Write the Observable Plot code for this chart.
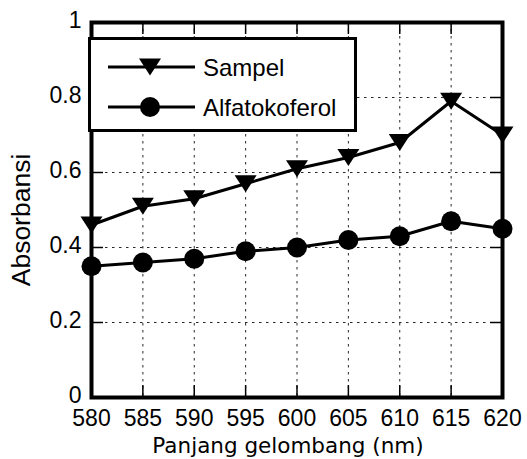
<!DOCTYPE html>
<html>
<head>
<meta charset="utf-8">
<script src="https://cdn.jsdelivr.net/npm/d3@7"></script>
<script src="https://cdn.jsdelivr.net/npm/@observablehq/plot@0.6"></script>
<style>
  html, body { margin: 0; padding: 0; background: #fff; }
  #wrap { position: relative; width: 527px; height: 459px; }
  #legend { position: absolute; left: 88px; top: 37px; width: 263px; height: 89px;
            border: 3px solid #000; background: #fff; }
  #legend svg { display: block; }
</style>
</head>
<body>
<div id="wrap"><div id="chart"></div><div id="legend"></div></div>
<script>
// ---- data ----
const wavelength = [580, 585, 590, 595, 600, 605, 610, 615, 620];
const sampel = [0.46, 0.51, 0.53, 0.57, 0.61, 0.64, 0.68, 0.79, 0.70];
const alfatokoferol = [0.35, 0.36, 0.37, 0.39, 0.40, 0.42, 0.43, 0.47, 0.45];
const seriesNames = ["Sampel", "Alfatokoferol"];
const xTicks = [580, 585, 590, 595, 600, 605, 610, 615, 620];
const yTicks = [0, 0.2, 0.4, 0.6, 0.8, 1];
const yTickLabels = ["0", "0.2", "0.4", "0.6", "0.8", "1"];
const xTitle = "Panjang gelombang (nm)";
const yTitle = "Absorbansi";

// ---- layout ----
const W = 527, H = 459;
const mL = 91, mR = 25, mT = 22, mB = 62;
const innerW = W - mL - mR, innerH = H - mT - mB;
const tickLen = 12;
const sansFont = "'Liberation Sans', Arial, Helvetica, sans-serif";

const rowsS = wavelength.map((x, i) => ({x, y: sampel[i]}));
const rowsA = wavelength.map((x, i) => ({x, y: alfatokoferol[i]}));

// downward triangle symbol
const triangleDown = {
  draw(context) {
    context.moveTo(-11, -8.5);
    context.lineTo(11, -8.5);
    context.lineTo(0, 8.5);
    context.closePath();
  }
};

const grid = {stroke: "#000", strokeWidth: 1, strokeDasharray: "2.5,4.5", strokeOpacity: 0.85};

const chart = Plot.plot({
  width: W, height: H,
  marginLeft: mL, marginRight: mR, marginTop: mT, marginBottom: mB,
  style: {fontFamily: sansFont, fontSize: "23px", background: "#fff", color: "#000", overflow: "visible"},
  x: {domain: [580, 620]},
  y: {domain: [0, 1]},
  marks: [
    Plot.ruleX(xTicks, {x: d => d, ...grid}),
    Plot.ruleY(yTicks, {y: d => d, ...grid}),
    // inward ticks on all four sides
    Plot.tickX(xTicks, {x: d => d, insetTop: innerH - tickLen, stroke: "#000", strokeWidth: 1.5}),
    Plot.tickX(xTicks, {x: d => d, insetBottom: innerH - tickLen, stroke: "#000", strokeWidth: 1.5}),
    Plot.tickY(yTicks, {y: d => d, insetRight: innerW - tickLen, stroke: "#000", strokeWidth: 1.5}),
    Plot.tickY(yTicks, {y: d => d, insetLeft: innerW - tickLen, stroke: "#000", strokeWidth: 1.5}),
    Plot.line(rowsS, {x: "x", y: "y", stroke: "#000", strokeWidth: 3}),
    Plot.line(rowsA, {x: "x", y: "y", stroke: "#000", strokeWidth: 3}),
    Plot.dot(rowsS, {x: "x", y: "y", symbol: triangleDown, fill: "#000", stroke: "none"}),
    Plot.dot(rowsA, {x: "x", y: "y", r: 10, fill: "#000", stroke: "none"}),
    Plot.frame({stroke: "#000", strokeWidth: 4}),
    Plot.axisX(xTicks, {tickSize: 0, tickPadding: 12, label: null, fontSize: 23}),
    Plot.axisY(yTicks, {tickSize: 0, tickPadding: 10, label: null, fontSize: 23, dy: -2,
      tickFormat: d => yTickLabels[yTicks.indexOf(d)]}),
    Plot.text([xTitle], {text: d => d, frameAnchor: "bottom", lineAnchor: "bottom",
      dx: -9, dy: 55, fontFamily: "'DejaVu Sans', Verdana, sans-serif", fontSize: 21.5}),
    Plot.text([yTitle], {text: d => d, frameAnchor: "left", lineAnchor: "bottom", textAnchor: "middle",
      rotate: -90, dx: -62, dy: 10, fontSize: 26.5})
  ]
});
document.getElementById("chart").appendChild(chart);

// ---- legend ----
const lg = d3.select("#legend").append("svg").attr("width", 263).attr("height", 89);
const legendRows = [
  {name: seriesNames[0], kind: "tri", y: 27},
  {name: seriesNames[1], kind: "circ", y: 67}
];
legendRows.forEach(r => {
  lg.append("line").attr("x1", 17).attr("x2", 104).attr("y1", r.y).attr("y2", r.y)
    .attr("stroke", "#000").attr("stroke-width", 3);
  if (r.kind === "tri") {
    const p = d3.path(); triangleDown.draw(p);
    lg.append("path").attr("d", p.toString())
      .attr("transform", `translate(59,${r.y})`).attr("fill", "#000");
  } else {
    lg.append("circle").attr("cx", 59).attr("cy", r.y).attr("r", 10).attr("fill", "#000");
  }
  lg.append("text").attr("x", 112).attr("y", r.y + 9).text(r.name)
    .attr("font-family", sansFont).attr("font-size", 24).attr("fill", "#000");
});
</script>
</body>
</html>
